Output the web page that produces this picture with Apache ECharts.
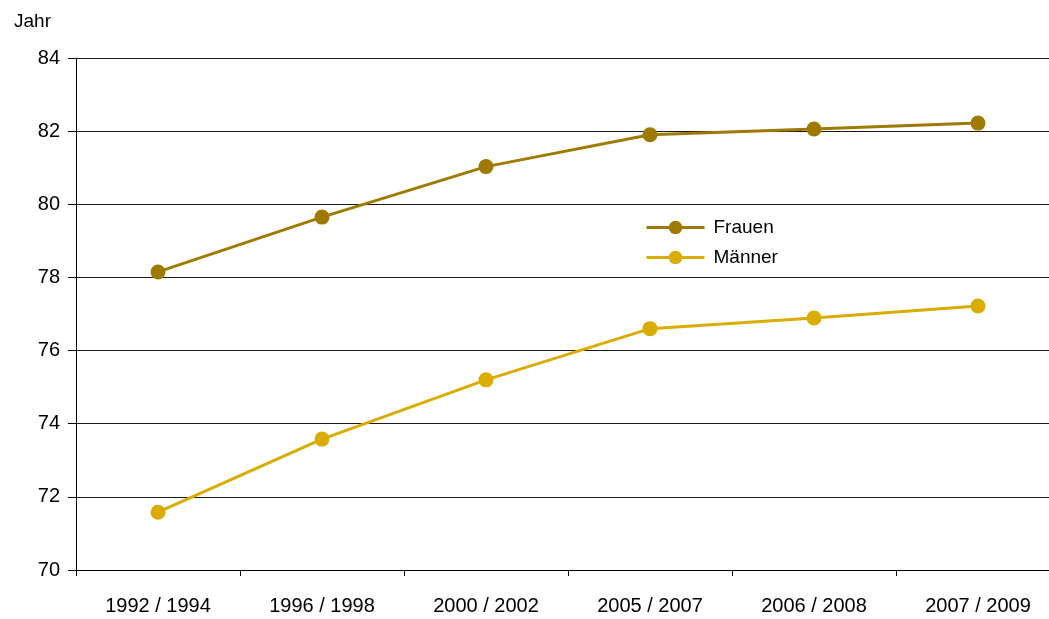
<!DOCTYPE html>
<html>
<head>
<meta charset="utf-8">
<script src="https://cdn.jsdelivr.net/npm/echarts@6/dist/echarts.min.js"></script>
<style>
  html, body { margin: 0; padding: 0; background: #fff; }
  #chart { width: 1049px; height: 619px; }
</style>
</head>
<body>
<div id="chart"></div>
<script>
// Lebenserwartung bei Geburt, Drei-Jahres-Zeiträume
const categories = ['1992 / 1994', '1996 / 1998', '2000 / 2002', '2005 / 2007', '2006 / 2008', '2007 / 2009'];
const frauen = [78.15, 79.65, 81.03, 81.9, 82.06, 82.22];
const maenner = [71.58, 73.58, 75.2, 76.6, 76.89, 77.22];
const yTicks = { min: 70, max: 84, step: 2 };

const FONT = '"Liberation Sans", Arial, sans-serif';
const colFrauen = '#9E7B00';
const colMaenner = '#DAAC00';

const chart = echarts.init(document.getElementById('chart'), null, { renderer: 'canvas' });
chart.setOption({
  backgroundColor: '#ffffff',
  animation: false,
  title: {
    text: 'Jahr',
    left: 9,
    top: 7,
    textStyle: { fontFamily: FONT, fontSize: 19, fontWeight: 'normal', color: '#000' }
  },
  legend: {
    left: 640,
    top: 213,
    orient: 'vertical',
    itemWidth: 58,
    itemHeight: 17,
    itemGap: 11,
    lineStyle: { width: 3 },
    textStyle: { fontFamily: FONT, fontSize: 19, color: '#000', padding: [0, 0, 0, 4] },
    data: ['Frauen', 'Männer']
  },
  // the plot runs a little past the right edge of the canvas
  grid: { left: 76, width: 984, top: 58, bottom: 49, containLabel: false, outerBoundsMode: 'none' },
  xAxis: {
    type: 'category',
    data: categories,
    boundaryGap: true,
    axisLine: { show: true, lineStyle: { color: '#000', width: 1 } },
    axisTick: { show: true, length: 6, lineStyle: { color: '#000' } },
    axisLabel: { fontFamily: FONT, fontSize: 20, color: '#000', margin: 26 },
    splitLine: { show: false }
  },
  yAxis: {
    type: 'value',
    min: yTicks.min,
    max: yTicks.max,
    interval: yTicks.step,
    axisLine: { show: true, lineStyle: { color: '#000', width: 1 } },
    axisTick: { show: true, length: 8, lineStyle: { color: '#000' } },
    axisLabel: { fontFamily: FONT, fontSize: 20, color: '#000', margin: 16 },
    splitLine: { show: true, lineStyle: { color: '#1a1a1a', width: 1 } }
  },
  series: [
    {
      name: 'Frauen',
      type: 'line',
      data: frauen,
      symbol: 'circle',
      symbolSize: 15,
      itemStyle: { color: colFrauen },
      lineStyle: { color: colFrauen, width: 3 },
      z: 3
    },
    {
      name: 'Männer',
      type: 'line',
      data: maenner,
      symbol: 'circle',
      symbolSize: 15,
      itemStyle: { color: colMaenner },
      lineStyle: { color: colMaenner, width: 3 },
      z: 3
    }
  ]
});
</script>
</body>
</html>
